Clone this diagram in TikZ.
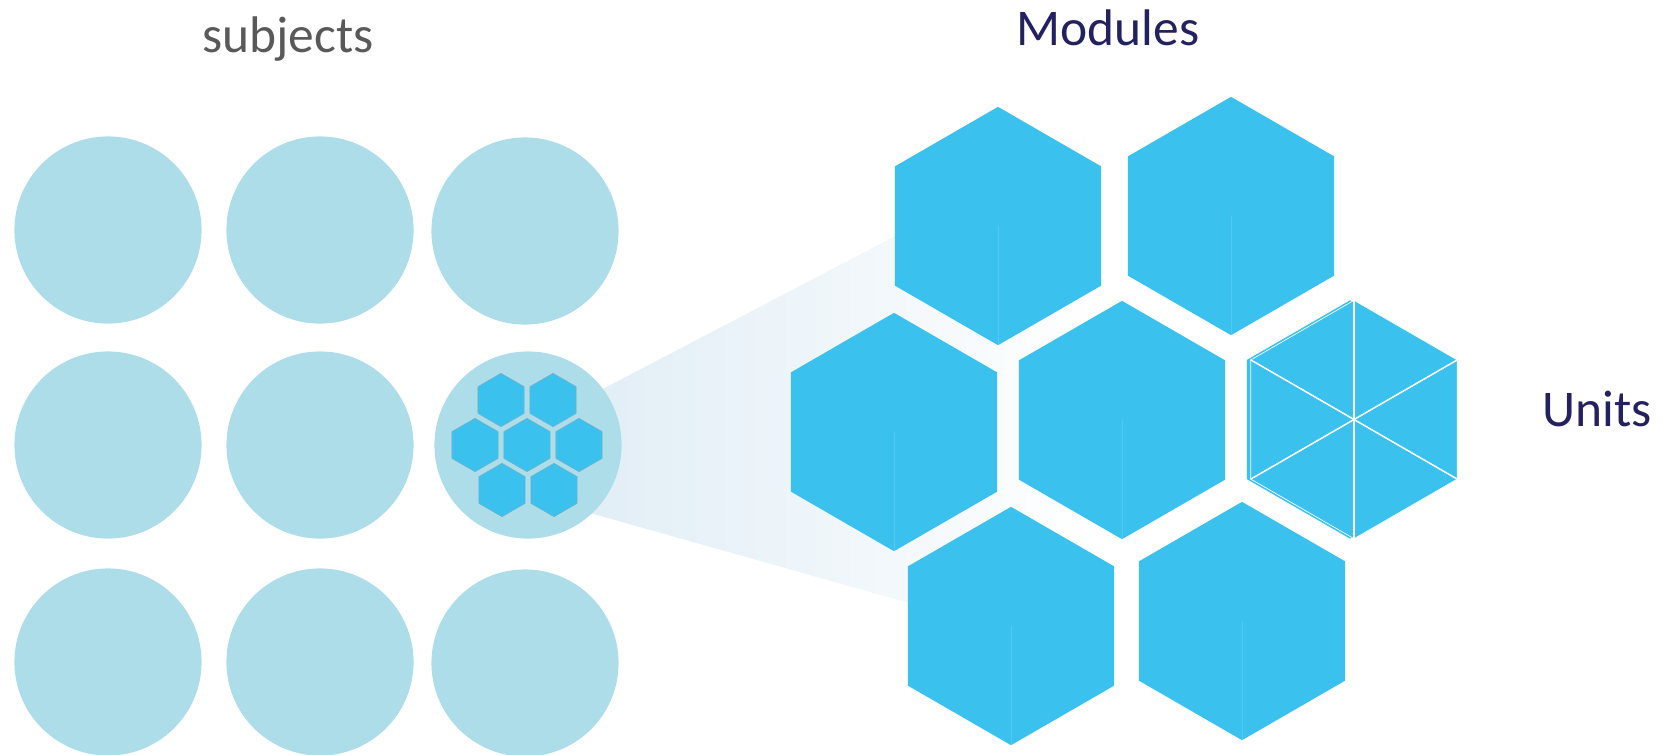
\documentclass[tikz,border=0pt]{standalone}
\usepackage{fontspec}
\setmainfont{Carlito}
\usetikzlibrary{shapes.geometric}
\definecolor{CircleBlue}{RGB}{173,221,232}
\definecolor{HexBlue}{RGB}{59,193,238}
\definecolor{BeamBlue}{RGB}{222,236,245}
\definecolor{UnitEdge}{RGB}{120,175,195}
\definecolor{SubjGray}{RGB}{89,89,89}
\definecolor{LabelNavy}{RGB}{36,33,97}
\tikzset{
	subject/.style={circle,fill=CircleBlue,minimum size=3.744cm,inner sep=0,outer sep=0},
	module/.style={regular polygon,regular polygon sides=6,shape border rotate=30,fill=HexBlue,minimum size=4.768cm,inner sep=0,outer sep=0},
	unit/.style={regular polygon,regular polygon sides=6,shape border rotate=30,fill=HexBlue,draw=UnitEdge,line width=0.3pt,minimum size=1.068cm,inner sep=0,outer sep=0},
	seam/.style={HexBlue!88!white,line width=0.4pt},
	tag/.style={font={\fontsize{29.3}{35}\selectfont},anchor=base,inner sep=0}
}

\begin{document}
\begin{tikzpicture}[x=0.02cm,y=-0.02cm]
		% frame
		\clip (0,0) rectangle (1665,754);

		% beam from the zoomed subject
		\shade[left color=BeamBlue,right color=white] (530,427) -- (1100,129) -- (1100,657) -- (530,496) -- cycle;

		% subjects
		\node[subject] (s11) at (108,230) {};
		\node[subject] (s12) at (320,230) {};
		\node[subject] (s13) at (525,231) {};
		\node[subject] (s21) at (108,445) {};
		\node[subject] (s22) at (320,445) {};
		\node[subject] (s23) at (528,445) {};
		\node[subject] (s31) at (108,662) {};
		\node[subject] (s32) at (320,662) {};
		\node[subject] (s33) at (525,663) {};

		% small units inside s23
		\node[unit] (u1) at (501,400) {};
		\node[unit] (u2) at (553,400) {};
		\node[unit] (u3) at (475,445) {};
		\node[unit] (u4) at (527,445) {};
		\node[unit] (u5) at (579,445) {};
		\node[unit] (u6) at (502,490) {};
		\node[unit] (u7) at (554,490) {};

		% modules
		\node[module] (m1) at (998,226) {};
		\node[module] (m2) at (1231,216) {};
		\node[module] (m3) at (894,432) {};
		\node[module] (m4) at (1122,420) {};
		\node[module] (m6) at (1011,626) {};
		\node[module] (m7) at (1242,621) {};

		% seams
		\draw[seam] (m1.center) -- (m1.270);
		\draw[seam] (m2.center) -- (m2.270);
		\draw[seam] (m3.center) -- (m3.270);
		\draw[seam] (m4.center) -- (m4.270);
		\draw[seam] (m6.center) -- (m6.270);
		\draw[seam] (m7.center) -- (m7.270);

		% module split into units
		\node[module] (m5back) at (1350,419.5) {};
		\node[module] (m5) at (1354,419.5) {};
		\filldraw[fill=HexBlue,draw=white,line width=0.4pt] (m5.center) -- (m5.90) -- (m5.150) -- cycle;
		\filldraw[fill=HexBlue,draw=white,line width=0.4pt] (m5.center) -- (m5.150) -- (m5.210) -- cycle;
		\filldraw[fill=HexBlue,draw=white,line width=0.4pt] (m5.center) -- (m5.210) -- (m5.270) -- cycle;
		\filldraw[fill=HexBlue,draw=white,line width=0.4pt] (m5.center) -- (m5.270) -- (m5.330) -- cycle;
		\filldraw[fill=HexBlue,draw=white,line width=0.4pt] (m5.center) -- (m5.330) -- (m5.30) -- cycle;
		\filldraw[fill=HexBlue,draw=white,line width=0.4pt] (m5.center) -- (m5.30) -- (m5.90) -- cycle;
		\draw[white,line width=0.8pt] (m5.30) -- (m5.210);
		\draw[white,line width=0.8pt] (m5.90) -- (m5.270);
		\draw[white,line width=0.8pt] (m5.150) -- (m5.330);

		% labels
		\node[tag,SubjGray] (subjects) at (288,52) {subjects};
		\node[tag,LabelNavy] (modules) at (1108,45) {Modules};
		\node[tag,LabelNavy] (units) at (1597,426) {Units};

	\end{tikzpicture}
\end{document}
